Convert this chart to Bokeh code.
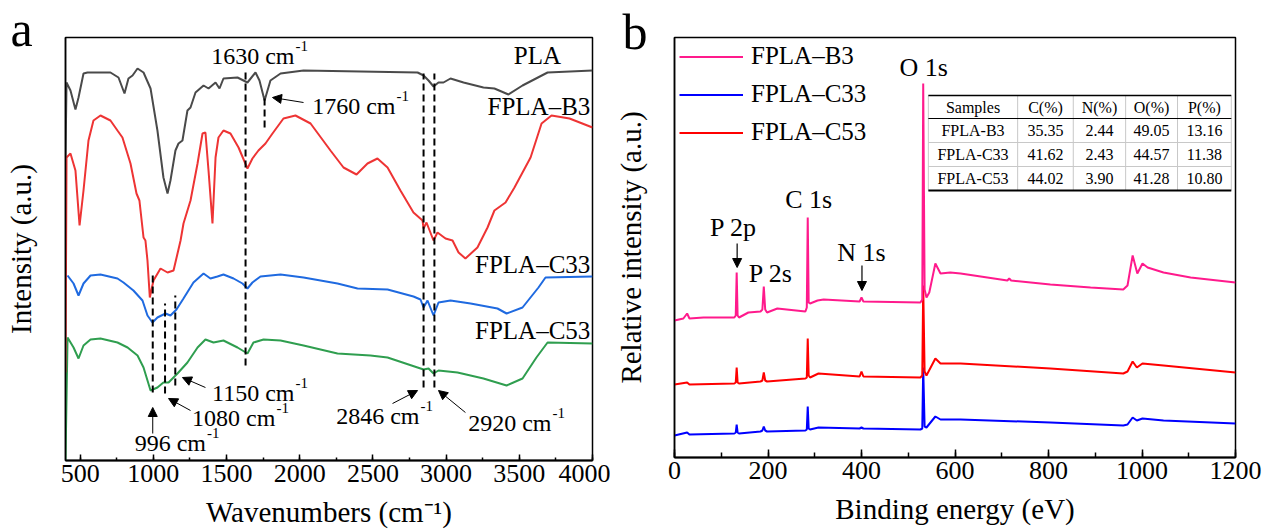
from bokeh.plotting import figure
from bokeh.models import (Range1d, SingleIntervalTicker, FixedTicker, Arrow, NormalHead,
                          Legend, LegendItem)
from bokeh.layouts import row
from bokeh.embed import file_html
from bokeh.resources import INLINE
from bokeh.core.properties import value

FONT = "Liberation Serif"

# ---------------- Panel a : FTIR (wavenumber cm-1, intensity a.u.) ----------------
pla_wn = [400, 407, 434, 468, 489, 523, 550, 707, 762, 803, 830, 858, 892, 933, 981,
          1028, 1069, 1097, 1117, 1151, 1172, 1199, 1233, 1254, 1288, 1343, 1377, 1425,
          1452, 1479, 1575, 1643, 1698, 1725, 1760, 1800, 1869, 2026, 2805, 2846, 2880,
          2914, 2948, 2982, 3030, 3119, 3255, 3330, 3426, 3522, 3693, 4000]
pla_i = [303, 378, 370, 351, 363, 387, 388, 388, 383, 367, 382, 385, 392, 388, 372,
         330, 283, 267, 280, 310, 317, 320, 350, 353, 368, 375, 372, 378, 372, 382,
         383, 378, 388, 380, 360, 380, 387, 390, 388, 385, 380, 374, 378, 378, 382,
         378, 373, 372, 366, 375, 388, 390]

b3_wn = [400, 407, 434, 468, 496, 523, 557, 591, 639, 707, 755, 789, 844, 885, 905,
         933, 946, 960, 976, 1001, 1049, 1097, 1138, 1186, 1206, 1254, 1302, 1336, 1356,
         1377, 1404, 1425, 1445, 1479, 1527, 1582, 1643, 1677, 1718, 1766, 1814, 1889,
         1971, 2074, 2210, 2299, 2388, 2463, 2531, 2600, 2688, 2777, 2839, 2846, 2866,
         2914, 2941, 2996, 3044, 3085, 3132, 3214, 3283, 3330, 3406, 3467, 3577, 3652,
         3720, 3843, 4000]
b3_i = [88, 303, 307, 290, 235, 270, 320, 340, 345, 340, 330, 323, 297, 267, 260,
        223, 220, 200, 163, 180, 192, 188, 190, 220, 237, 260, 297, 327, 328,
        290, 237, 303, 323, 330, 327, 313, 292, 302, 310, 317, 327, 342,
        345, 337, 310, 293, 286, 297, 302, 293, 270, 248, 240, 232, 238,
        220, 228, 222, 220, 208, 202, 213, 233, 250, 258, 273, 303, 337,
        345, 342, 333]

c33_wn = [414, 455, 489, 523, 571, 639, 755, 796, 864, 926, 960, 994, 1028, 1083, 1117,
          1158, 1206, 1274, 1343, 1390, 1438, 1479, 1548, 1609, 1643, 1677, 1732, 1869,
          2026, 2258, 2395, 2600, 2777, 2825, 2846, 2873, 2914, 2948, 3030, 3167, 3351,
          3413, 3522, 3631, 3679, 4000]
c33_i = [185, 177, 165, 177, 185, 186, 182, 178, 170, 160, 145, 138, 143, 147, 145,
         151, 162, 178, 187, 182, 184, 186, 182, 177, 172, 178, 184, 186,
         183, 177, 172, 171, 164, 161, 153, 160, 145, 158, 160, 157, 152,
         147, 153, 173, 183, 184]

c53_wn = [400, 414, 455, 489, 523, 571, 639, 755, 824, 892, 933, 981, 1028, 1069, 1104,
          1165, 1233, 1302, 1356, 1411, 1479, 1575, 1643, 1684, 1753, 1869, 2026, 2258,
          2483, 2600, 2805, 2846, 2880, 2914, 2948, 3078, 3255, 3413, 3522, 3617, 3693, 4000]
c53_i = [0, 123, 113, 102, 115, 121, 122, 118, 113, 105, 93, 70, 73, 78, 78,
         87, 98, 113, 121, 118, 120, 113, 107, 118, 121, 120, 115, 107,
         105, 103, 93, 91, 92, 87, 90, 88, 82, 75, 82, 103, 118, 117]

series_a_names = ["PLA", "FPLA–B3", "FPLA–C33", "FPLA–C53"]

# marked bands (cm-1)
band_wn = [996, 1080, 1150, 1630, 1760, 2846, 2920]
band_lo = [68, 67, 75, 95, 333, 73, 73]
band_hi = [187, 157, 165, 388, 363, 387, 387]

# ---------------- Panel b : XPS survey (binding energy eV) ----------------
xb3_be = [0, 19, 27, 32, 62, 128, 131, 133, 135, 138, 158, 184, 188, 191, 194, 198, 220,
          280, 283, 285, 287, 290, 306, 319, 396, 400, 404, 526, 530, 532, 535, 539, 545,
          558, 569, 590, 612, 712, 716, 720, 804, 890, 960, 969, 980, 990, 1001, 1012,
          1046, 1104, 1200]
xb3_i = [137, 139, 144, 139, 140, 140, 142, 185, 142, 140, 145, 146, 148, 171, 148, 145, 149,
         146, 150, 240, 155, 154, 157, 158, 156, 160, 156, 155, 158, 374, 168, 160, 165,
         194, 184, 185, 184, 177, 179, 177, 173, 170, 168, 172, 202, 184, 194, 190,
         185, 180, 175]

xc_be = [0, 27, 32, 128, 131, 133, 135, 138, 184, 188, 191, 194, 198, 280, 283, 285, 287,
         290, 308, 396, 400, 404, 526, 530, 532, 535, 539, 558, 569, 612, 804, 960, 969,
         980, 989, 1001, 1046, 1200]
xc53_i = [73, 75, 73, 74, 75, 90, 75, 74, 76, 77, 85, 77, 76, 79, 80, 119, 82,
          80, 84, 81, 86, 81, 80, 82, 172, 86, 82, 99, 94, 94, 89, 84, 86,
          96, 90, 94, 92, 85]
xc33_i = [22, 25, 23, 24, 25, 33, 25, 24, 26, 27, 31, 27, 26, 27, 28, 51, 29,
          28, 30, 29, 30, 29, 28, 29, 90, 31, 30, 41, 38, 38, 35, 32, 33,
          40, 37, 39, 37, 34]

peak_names = ["O 1s", "C 1s", "P 2p", "N 1s", "P 2s"]

# composition table
tab_header = ["Samples", "C(%)", "N(%)", "O(%)", "P(%)"]
tab_samples = ["FPLA-B3", "FPLA-C33", "FPLA-C53"]
tab_C = [35.35, 41.62, 44.02]
tab_N = [2.44, 2.43, 3.90]
tab_O = [49.05, 44.57, 41.28]
tab_P = [13.16, 11.38, 10.80]


def style_axes(p, xlabel, ylabel, maj_in, min_in, ystandoff):
    p.grid.visible = False
    p.outline_line_color = "black"
    p.outline_line_width = 1.5
    p.outline_line_alpha = 1
    p.background_fill_color = "white"
    p.border_fill_color = "white"
    p.yaxis.ticker = FixedTicker(ticks=[])
    p.yaxis.minor_tick_line_color = None
    p.yaxis.major_tick_line_color = None
    p.yaxis.axis_line_width = 1.5
    p.xaxis.axis_line_width = 2
    p.xaxis.major_tick_in = maj_in
    p.xaxis.major_tick_out = 0
    p.xaxis.minor_tick_in = min_in
    p.xaxis.minor_tick_out = 0
    p.xaxis.major_tick_line_width = 1.5
    p.xaxis.minor_tick_line_width = 1.5
    p.xaxis.major_label_text_font = FONT
    p.xaxis.major_label_text_font_size = "26px"
    p.xaxis.major_label_text_color = "black"
    p.xaxis.major_label_standoff = 4
    for ax, lab in ((p.xaxis, xlabel), (p.yaxis, ylabel)):
        ax.axis_label = lab
        ax.axis_label_text_font = FONT
        ax.axis_label_text_font_size = "29px"
        ax.axis_label_text_font_style = "normal"
        ax.axis_label_text_color = "black"
    p.xaxis.axis_label_standoff = 11
    p.yaxis.axis_label_standoff = ystandoff


def panel_letter(p, letter, offset, standoff):
    p.title.text = letter
    p.title.align = "left"
    p.title.offset = offset
    p.title.standoff = standoff
    p.title.text_font = FONT
    p.title.text_font_size = "50px"
    p.title.text_font_style = "normal"
    p.title.text_color = "black"


# ======== figure a ========
pa = figure(frame_width=527, frame_height=423, x_range=Range1d(400, 4000), y_range=Range1d(0, 423),
            output_backend="svg", toolbar_location=None,
            min_border_left=65, min_border_right=18, min_border_top=37, min_border_bottom=72)
pa.xaxis.ticker = SingleIntervalTicker(interval=500, num_minor_ticks=2)
style_axes(pa, "Wavenumbers (cm⁻¹)", "Intensity (a.u.)", 6, 3, 29)

pa.line(c53_wn, c53_i, line_color="#2f9e4f", line_width=2)
pa.line(c33_wn, c33_i, line_color="#1f6ae0", line_width=2)
pa.line(b3_wn, b3_i, line_color="#ee3434", line_width=2)
pa.line(pla_wn, pla_i, line_color="#4a4a4a", line_width=2)

pa.segment(x0=band_wn, y0=band_lo, x1=band_wn, y1=band_hi, line_color="black",
           line_width=2, line_dash="7 4")

# series names
pa.text(x=[3624], y=[405], text=[series_a_names[0]], text_font=value(FONT), text_font_size="25px",
        text_align="center", text_baseline="middle", text_color="black")
pa.text(x=[3985, 3985, 3985], y=[354, 196, 130], text=series_a_names[1:], text_font=value(FONT),
        text_font_size="25px", text_align="right", text_baseline="middle", text_color="black")

# band labels: "NNNN cm" right-aligned to anchor, superscript "-1" after it
lab_x = [1964, 2654, 1964, 1834, 1360, 2818, 3720]
lab_y = [405, 355, 68, 43, 18, 45, 38]
lab_txt = ["%d cm" % w for w in [1630, 1760, 1150, 1080, 996, 2846, 2920]]
pa.text(x=lab_x, y=lab_y, text=lab_txt, text_font=value(FONT), text_font_size="24px",
        text_align="right", text_baseline="middle", text_color="black")
pa.text(x=lab_x, y=lab_y, text=["-1"] * len(lab_x), text_font=value(FONT), text_font_size="15px",
        text_align="left", text_baseline="middle", text_color="black", x_offset=1, y_offset=-10)

arrows_a = [(2026, 358, 1814, 363), (1356, 73, 1199, 83), (1254, 50, 1104, 62),
            (996, 27, 996, 53), (2634, 57, 2805, 70), (3132, 48, 2948, 70)]
for xs, ys, xe, ye in arrows_a:
    pa.add_layout(Arrow(end=NormalHead(size=9, fill_color="black", line_color="black", line_width=1),
                        x_start=xs, y_start=ys, x_end=xe, y_end=ye, line_width=1, line_color="black"))

panel_letter(pa, "a", -55, -38)

# ======== figure b ========
pb = figure(frame_width=561, frame_height=420, x_range=Range1d(0, 1200), y_range=Range1d(0, 420),
            output_backend="svg", toolbar_location=None,
            min_border_left=64, min_border_right=28, min_border_top=37, min_border_bottom=75)
pb.xaxis.ticker = SingleIntervalTicker(interval=200, num_minor_ticks=2)
style_axes(pb, "Binding energy (eV)", "Relative intensity (a.u.)", 8, 5, 28)

r_c33 = pb.line(xc_be, xc33_i, line_color="#0000ff", line_width=2)
r_c53 = pb.line(xc_be, xc53_i, line_color="#ff0000", line_width=2)
r_b3 = pb.line(xb3_be, xb3_i, line_color="#ff1a8c", line_width=2)

pb.text(x=[533, 287, 126, 400, 206], y=[390, 258, 230, 205, 184], text=peak_names,
        text_font=value(FONT), text_font_size="26px", text_align="center",
        text_baseline="middle", text_color="black")
for xs, ys, ye in [(134, 214, 190), (401, 192, 167)]:
    pb.add_layout(Arrow(end=NormalHead(size=9, fill_color="black", line_color="black", line_width=1),
                        x_start=xs, y_start=ys, x_end=xs, y_end=ye, line_width=1.2, line_color="black"))

# table
col_edges = [543, 734, 853, 965, 1076, 1191]
row_edges = [362, 339, 315, 291, 267]
pb.quad(left=col_edges[0], right=col_edges[-1], top=row_edges[0], bottom=row_edges[-1],
        fill_color="white", line_color=None)
pb.segment(x0=col_edges, y0=[row_edges[0]] * 6, x1=col_edges, y1=[row_edges[-1]] * 6,
           line_color="#c8c8c8", line_width=1)
pb.segment(x0=[col_edges[0]] * 2, y0=row_edges[2:4], x1=[col_edges[-1]] * 2, y1=row_edges[2:4],
           line_color="#c8c8c8", line_width=1)
pb.segment(x0=[col_edges[0]] * 3, y0=[row_edges[0], row_edges[1], row_edges[-1]],
           x1=[col_edges[-1]] * 3, y1=[row_edges[0], row_edges[1], row_edges[-1]],
           line_color="black", line_width=[1.5, 1.2, 2])
cx = [(col_edges[i] + col_edges[i + 1]) / 2 for i in range(5)]
cy = [(row_edges[i] + row_edges[i + 1]) / 2 for i in range(4)]
cells_x, cells_y, cells_t = [], [], []
for j, h in enumerate(tab_header):
    cells_x.append(cx[j]); cells_y.append(cy[0]); cells_t.append(h)
for i, s in enumerate(tab_samples):
    vals = [s] + ["%.2f" % v for v in (tab_C[i], tab_N[i], tab_O[i], tab_P[i])]
    for j, v in enumerate(vals):
        cells_x.append(cx[j]); cells_y.append(cy[i + 1]); cells_t.append(v)
pb.text(x=cells_x, y=cells_y, text=cells_t, text_font=value(FONT), text_font_size="16px",
        text_align="center", text_baseline="middle", text_color="black")

legend = Legend(items=[LegendItem(label="FPLA–B3", renderers=[r_b3]),
                       LegendItem(label="FPLA–C33", renderers=[r_c33]),
                       LegendItem(label="FPLA–C53", renderers=[r_c53])],
                location="top_left", margin=5, padding=4, spacing=10, glyph_width=64,
                glyph_height=25, label_height=25, label_standoff=8, label_text_font=FONT,
                label_text_font_size="25px", label_text_color="black",
                border_line_color=None, background_fill_alpha=0)
pb.add_layout(legend)

panel_letter(pb, "b", -52, -44)

layout = row(pa, pb)
open("out.html", "w").write(file_html(layout, INLINE))
